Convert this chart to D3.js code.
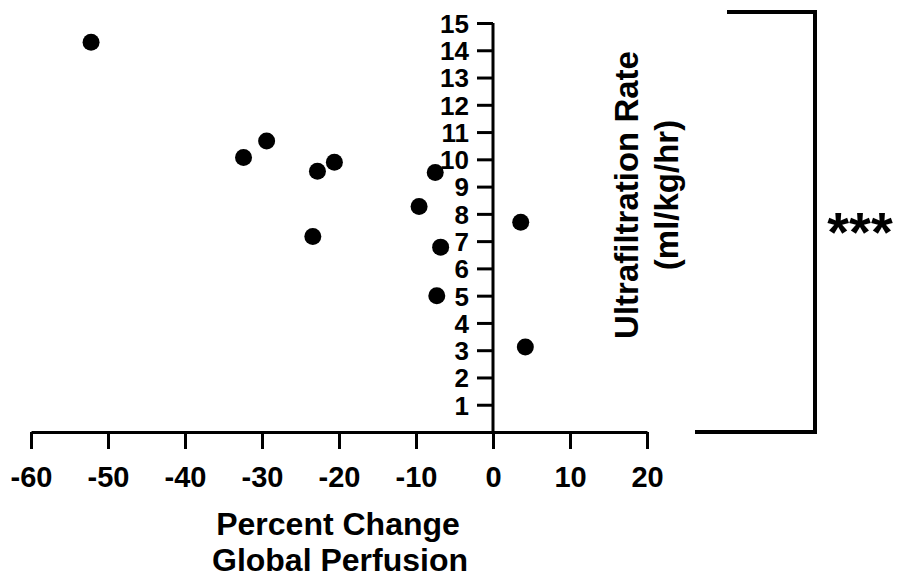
<!DOCTYPE html>
<html>
<head>
  <meta charset="utf-8">
  <script src="https://d3js.org/d3.v7.min.js"></script>
  <style>
    body { margin: 0; background: #fff; }
    svg text { font-family: "Liberation Sans", Arial, sans-serif; font-weight: bold; fill: #000; }
    .axis path, .axis line { stroke: #000; stroke-width: 3; }
  </style>
</head>
<body>
  <script>
  // percent change in global perfusion vs ultrafiltration rate
  var perfusion = [-52.2, -32.4, -29.4, -22.8, -20.6, -23.4, -7.5, -9.6, 3.6, -6.8, -7.3, 4.2];
  var ufRate    = [14.29, 10.07, 10.67, 9.56, 9.89, 7.17, 9.52, 8.27, 7.69, 6.78, 5.0, 3.12];
  var xTicks = [-60, -50, -40, -30, -20, -10, 0, 10, 20];
  var yTicks = [1, 2, 3, 4, 5, 6, 7, 8, 9, 10, 11, 12, 13, 14, 15];

  var width = 902, height = 580;

  var svg = d3.select("body").append("svg")
      .attr("width", width)
      .attr("height", height);

  var x = d3.scaleLinear().domain([-60, 20]).range([31, 647]);
  var y = d3.scaleLinear().domain([0, 15]).range([432, 23]);

  // plain hyphen for negatives, like the original
  var fmt = function(d) { return String(d); };

  // x axis
  var gx = svg.append("g")
      .attr("class", "axis")
      .attr("transform", "translate(0," + y(0) + ")")
      .call(d3.axisBottom(x).tickValues(xTicks).tickFormat(fmt).tickSize(17).tickSizeOuter(0));
  gx.selectAll("text")
      .attr("y", 34)
      .attr("dy", "0.71em")
      .style("font-size", "29px");

  // y axis
  var gy = svg.append("g")
      .attr("class", "axis")
      .attr("transform", "translate(" + x(0) + ",0)")
      .call(d3.axisLeft(y).tickValues(yTicks).tickFormat(fmt).tickSize(16).tickSizeOuter(0));
  gy.select(".domain").attr("d", "M0," + y(0) + "V" + y(15));
  gy.selectAll("text")
      .attr("x", -24)
      .attr("dy", "0.36em")
      .style("font-size", "26px");

  // points
  svg.selectAll("circle.pt")
    .data(perfusion)
    .enter().append("circle")
      .attr("class", "pt")
      .attr("cx", function(d) { return x(d); })
      .attr("cy", function(d, i) { return y(ufRate[i]); })
      .attr("r", 8.5)
      .style("fill", "#000");

  // x title
  var xt = svg.append("text")
      .attr("text-anchor", "middle")
      .style("font-size", "32px");
  xt.append("tspan").attr("x", 338).attr("y", 535).text("Percent Change");
  xt.append("tspan").attr("x", 340).attr("y", 571).text("Global Perfusion");

  // y title
  var yt = svg.append("text")
      .attr("text-anchor", "middle")
      .attr("transform", "translate(638,195) rotate(-90)")
      .style("font-size", "33px");
  yt.append("tspan").attr("x", 0).attr("y", 0).text("Ultrafiltration Rate");
  yt.append("tspan").attr("x", 0).attr("y", 40).text("(ml/kg/hr)");

  // significance bracket
  svg.append("path")
      .attr("d", "M727," + (y(0) - 420) + "H815V" + y(0) + "H695")
      .style("fill", "none")
      .style("stroke", "#000")
      .style("stroke-width", 4);

  svg.append("text")
      .attr("x", 860)
      .attr("y", 251)
      .attr("text-anchor", "middle")
      .style("font-size", "56px")
      .text("***");
  </script>
</body>
</html>
